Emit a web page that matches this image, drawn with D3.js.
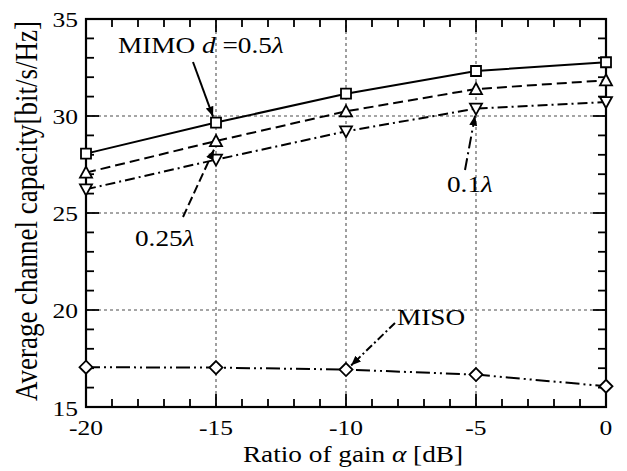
<!DOCTYPE html>
<html lang="en">
<head>
    <meta charset="UTF-8">
    <title>Average channel capacity vs ratio of gain</title>
    <script src="https://cdn.jsdelivr.net/npm/d3@7"></script>
    <style>
        body { margin: 0; background: #fff; }
        text { font-family: "Liberation Serif", "Times New Roman", Times, serif; fill: #000; }
    </style>
</head>
<body>
    <script type="text/javascript">
        // data
        var gain = [-20, -15, -10, -5, 0];
        var mimo05 = [28.06, 29.66, 31.15, 32.32, 32.77];
        var mimo025 = [27.08, 28.71, 30.24, 31.39, 31.84];
        var mimo01 = [26.22, 27.75, 29.21, 30.38, 30.72];
        var miso = [17.05, 17.03, 16.93, 16.67, 16.07];
        var xTicks = [-20, -15, -10, -5, 0];
        var yTicks = [15, 20, 25, 30, 35];

        var w = 627, h = 471;
        var pLeft = 86, pRight = 606, pTop = 19, pBottom = 407;
        var sx = 1.16; // the figure's text is a bit wider than plain Times

        var svg = d3.select("body").append("svg")
            .attr("width", w).attr("height", h)
            .attr("font-family", "'Liberation Serif', 'Times New Roman', serif");

        var x = d3.scaleLinear().domain([-20, 0]).range([pLeft, pRight]);
        var y = d3.scaleLinear().domain([15, 35]).range([pBottom, pTop]);

        function label(px, py, size, anchor){
            return svg.append("text")
                .attr("transform", "translate(" + px + "," + py + ") scale(" + sx + ",1)")
                .attr("text-anchor", anchor || "start")
                .attr("font-size", size + "px");
        }

        // grid
        var g = svg.append("g")
            .attr("stroke", "#888")
            .attr("stroke-width", 1.6)
            .attr("stroke-dasharray", "3,3");
        g.selectAll("line.vx")
            .data(xTicks.slice(1, -1))
            .enter().append("line")
            .attr("class", "vx")
            .attr("x1", function(d){ return x(d); })
            .attr("x2", function(d){ return x(d); })
            .attr("y1", pTop).attr("y2", pBottom);
        g.selectAll("line.hy")
            .data(yTicks.slice(1, -1))
            .enter().append("line")
            .attr("class", "hy")
            .attr("x1", pLeft).attr("x2", pRight)
            .attr("y1", function(d){ return y(d); })
            .attr("y2", function(d){ return y(d); });

        // ticks (inward, all four sides)
        var minorX = d3.range(-20, 1, 1);
        var minorY = d3.range(15, 36, 1);
        var t = svg.append("g").attr("stroke", "#000").attr("stroke-width", 1.8);
        minorX.forEach(function(d){
            var len = (d % 5 === 0) ? 13 : 8;
            t.append("line").attr("x1", x(d)).attr("x2", x(d)).attr("y1", pBottom).attr("y2", pBottom - len);
            t.append("line").attr("x1", x(d)).attr("x2", x(d)).attr("y1", pTop).attr("y2", pTop + len);
        });
        minorY.forEach(function(d){
            var len = (d % 5 === 0) ? 13 : 8;
            t.append("line").attr("y1", y(d)).attr("y2", y(d)).attr("x1", pLeft).attr("x2", pLeft + len);
            t.append("line").attr("y1", y(d)).attr("y2", y(d)).attr("x1", pRight).attr("x2", pRight - len);
        });

        // frame
        svg.append("rect")
            .attr("x", pLeft).attr("y", pTop)
            .attr("width", pRight - pLeft).attr("height", pBottom - pTop)
            .attr("fill", "none").attr("stroke", "#000").attr("stroke-width", 2.2);

        // tick labels
        xTicks.forEach(function(d){
            label(x(d), 435, 22, "middle").text(d);
        });
        yTicks.forEach(function(d){
            label(78, d === 15 ? y(d) + 9 : y(d) + 7.5, 22, "end").text(d);
        });

        // axis titles
        var xt = label(353, 462, 23.5, "middle");
        xt.append("tspan").text("Ratio of gain ");
        xt.append("tspan").attr("font-style", "italic").text("\u03b1");
        xt.append("tspan").text(" [dB]");

        svg.append("text")
            .attr("transform", "translate(37,211) rotate(-90) scale(1," + sx + ")")
            .attr("text-anchor", "middle")
            .attr("font-size", "27px")
            .text("Average channel capacity[bit/s/Hz]");

        // series
        var series = [
            { values: mimo05, dash: null, marker: "square" },
            { values: mimo025, dash: "10,5", marker: "up" },
            { values: mimo01, dash: "10,4,2,4", marker: "down" },
            { values: miso, dash: "14,4,2,4,2,4", marker: "diamond" }
        ];

        var line = d3.line()
            .x(function(d){ return x(d[0]); })
            .y(function(d){ return y(d[1]); });

        var symbols = {
            square: "M-5,-5L5,-5L5,5L-5,5Z",
            up: "M0,-6L6,5L-6,5Z",
            down: "M0,6L6,-5L-6,-5Z",
            diamond: "M0,-6.5L6.5,0L0,6.5L-6.5,0Z"
        };

        series.forEach(function(s){
            var pts = gain.map(function(g, i){ return [g, s.values[i]]; });
            svg.append("path")
                .datum(pts)
                .attr("d", line)
                .attr("fill", "none")
                .attr("stroke", "#000")
                .attr("stroke-width", 2)
                .attr("stroke-dasharray", s.dash);
            svg.selectAll(null)
                .data(pts)
                .enter().append("path")
                .attr("d", symbols[s.marker])
                .attr("transform", function(d){ return "translate(" + x(d[0]) + "," + y(d[1]) + ")"; })
                .attr("fill", "#fff")
                .attr("stroke", "#000")
                .attr("stroke-width", 1.8);
        });

        // annotations
        svg.append("defs").append("marker")
            .attr("id", "ah")
            .attr("viewBox", "0 0 10 10")
            .attr("refX", 10).attr("refY", 5)
            .attr("markerWidth", 10).attr("markerHeight", 10)
            .attr("markerUnits", "userSpaceOnUse")
            .attr("orient", "auto")
            .append("path")
            .attr("d", "M0,1L10,5L0,9Z")
            .attr("fill", "#000");

        function arrow(x1, y1, x2, y2, dash){
            svg.append("line")
                .attr("x1", x1).attr("y1", y1)
                .attr("x2", x2).attr("y2", y2)
                .attr("stroke", "#000").attr("stroke-width", 2)
                .attr("stroke-dasharray", dash)
                .attr("marker-end", "url(#ah)");
        }

        arrow(193, 62, x(-15) - 3, y(mimo05[1]) - 6, null);
        arrow(183, 217, x(-15) - 2, y(mimo01[1]) - 10, "9,4");
        arrow(465, 170, x(-5) - 1, y(mimo01[3]) + 7, "12,4,2,4");
        arrow(395, 323, x(-10) + 5, y(miso[2]) - 4, "8,3,2,3");

        var a1 = label(118, 53, 23.5);
        a1.append("tspan").text("MIMO ");
        a1.append("tspan").attr("font-style", "italic").text("d");
        a1.append("tspan").text(" =0.5");
        a1.append("tspan").attr("font-style", "italic").text("\u03bb");

        var a2 = label(135, 246, 23.5);
        a2.append("tspan").text("0.25");
        a2.append("tspan").attr("font-style", "italic").text("\u03bb");

        var a3 = label(447, 192, 23.5);
        a3.append("tspan").text("0.1");
        a3.append("tspan").attr("font-style", "italic").text("\u03bb");

        label(397, 325, 23.5).text("MISO");
    </script>
</body>
</html>
